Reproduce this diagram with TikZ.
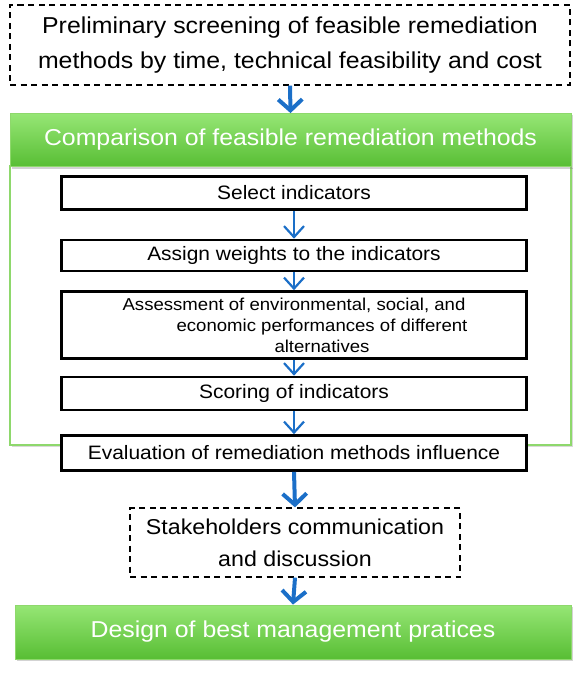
\documentclass[tikz,border=0pt]{standalone}
\usepackage{fontspec}
\setmainfont[FakeStretch=1.08]{Liberation Sans}
\usetikzlibrary{arrows.meta,shadows}

\definecolor{greenTop}{HTML}{96E675}
\definecolor{greenBot}{HTML}{58BE34}
\definecolor{greenLine}{HTML}{8ED86C}
\definecolor{arrowBlue}{HTML}{1B6FC8}

\tikzset{
  dashbox/.style={draw, line width=1.3pt, dash pattern=on 6pt off 4.5pt, align=center, inner sep=0pt},
  greenbar/.style={draw=greenLine, line width=0.8pt, top color=greenTop, bottom color=greenBot,
    text=white, inner sep=0pt, drop shadow={opacity=0.35, shadow xshift=1.5pt, shadow yshift=-2pt}},
  stepbox/.style={draw, line width=2.6pt, fill=white, minimum width=465pt, inner sep=0pt, align=center},
  thinarrow/.style={-{Straight Barb[length=11pt, width=20pt, line width=2.2pt]}, arrowBlue, line width=2.2pt},
  thickarrow/.style={-{Straight Barb[length=11pt, width=24pt, line width=4pt]}, arrowBlue, line width=4pt}
}

\begin{document}
\begin{tikzpicture}[x=1pt, y=-1pt]
\useasboundingbox (0,0) rectangle (579,674);

% Screening step
\node[dashbox, minimum width=560pt, minimum height=80pt, font=\fontsize{23}{35}\selectfont]
  (screen) at (290,45) {\raisebox{-3pt}{Preliminary screening of feasible remediation}\\\raisebox{-3pt}{methods by time, technical feasibility and cost}};

% Comparison block
\node[draw=greenLine, line width=2pt, fill=white, minimum width=561pt, minimum height=279pt,
  drop shadow={opacity=0.3, shadow xshift=1.5pt, shadow yshift=-2pt}] (frame) at (290.5,305.5) {};
\node[greenbar, minimum width=561pt, minimum height=53pt, font=\fontsize{23}{27}\selectfont]
  (compare) at (290.5,140) {Comparison of feasible remediation methods};

\node[stepbox, minimum height=33pt, font=\fontsize{19.4}{23}\selectfont] (select) at (294,193) {Select indicators};
\node[stepbox, minimum height=31pt, font=\fontsize{19.4}{23}\selectfont] (weights) at (294,255.5) {Assign weights to the indicators};
\node[stepbox, minimum height=67pt, font=\fontsize{17.2}{21}\selectfont] (assess) at (294,325)
  {Assessment of environmental, social, and\\\hspace*{56pt}economic performances of different\\\hspace*{56pt}alternatives};
\node[stepbox, minimum height=33pt, font=\fontsize{19.4}{23}\selectfont] (scoring) at (294,393.5) {Scoring of indicators};
\node[stepbox, minimum height=35pt, font=\fontsize{19.4}{23}\selectfont] (evaluate) at (294,453) {Evaluation of remediation methods influence};

% Communication and final design
\node[dashbox, minimum width=330pt, minimum height=69pt, font=\fontsize{21.5}{32}\selectfont]
  (stake) at (295,542.5) {Stakeholders communication\\and discussion};
\node[greenbar, minimum width=556pt, minimum height=54pt, font=\fontsize{23}{27}\selectfont]
  (design) at (293,632) {Design of best management pratices};

% Arrows
\draw[thickarrow] (screen.south) -- (compare.north);
\draw[thinarrow] (select.south) -- (weights.north);
\draw[thinarrow] (weights.south) -- (assess.north);
\draw[thinarrow] (assess.south) -- (scoring.north);
\draw[thinarrow] (scoring.south) -- (evaluate.north);
\draw[thickarrow] (evaluate.south) -- (stake.north);
\draw[thickarrow] (stake.south) -- (design.north);
\end{tikzpicture}
\end{document}
